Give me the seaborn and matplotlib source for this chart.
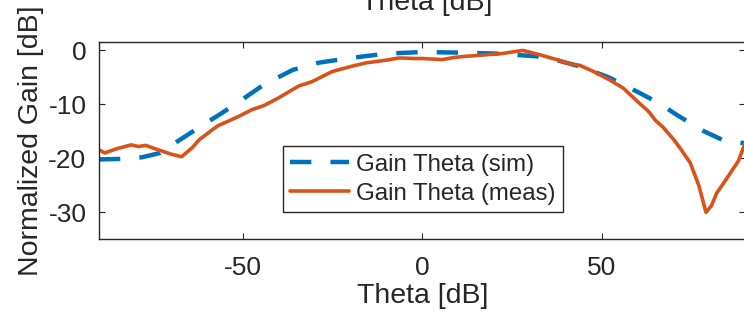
import pandas as pd
import seaborn as sns
import matplotlib.pyplot as plt

sns.set_theme(style="ticks")
plt.rcParams['font.family'] = ['Liberation Sans', 'DejaVu Sans']
plt.rcParams['axes.unicode_minus'] = False

# simulated gain (dashed blue)
sim_theta = [-90, -84, -78, -73, -68, -62, -56, -51, -44, -36, -29, -20, -10,
             0, 10, 21, 32, 38, 44, 52, 60, 66, 71, 78.5, 84, 90]
sim_gain = [-20.2, -20.1, -19.8, -19, -16.8, -14.2, -11.7, -9.5, -6.3, -3.6,
            -2.3, -1.4, -0.6, -0.3, -0.4, -0.6, -1.1, -1.9, -3, -5, -7.7,
            -9.8, -12, -15, -16.7, -17.2]

# measured gain (solid orange)
meas_theta = [-90, -88.4, -85, -81, -79, -77, -74, -70, -67, -64, -62, -57,
              -51, -47.5, -44, -40, -34.4, -30.7, -25, -20, -15.6, -10, -6.4,
              -2, 0, 5.6, 9, 12, 18, 22, 26, 28, 32.7, 37.4, 40, 44, 48, 52,
              56, 60, 63, 65, 67, 70, 72, 74.6, 77, 79, 80.5, 82, 84, 85.8,
              88, 90]
meas_gain = [-18.4, -19, -18.2, -17.5, -17.8, -17.6, -18.3, -19.2, -19.7, -18,
             -16.5, -14, -12.2, -11, -10.2, -8.8, -6.6, -5.8, -3.9, -3, -2.3,
             -1.8, -1.4, -1.5, -1.5, -1.7, -1.3, -1.1, -0.8, -0.6, -0.2, 0,
             -0.8, -1.7, -2.3, -2.8, -4, -5.4, -7, -9.5, -11.3, -13, -14.2,
             -16.5, -18.3, -20.8, -25, -30, -28.8, -26.4, -24.5, -22.7, -20.5,
             -17]

labels = ["Gain Theta (sim)", "Gain Theta (meas)"]
x_ticks = [-50, 0, 50]
y_ticks = [0, -10, -20, -30]

df = pd.concat([
    pd.DataFrame({"theta": sim_theta, "gain": sim_gain, "series": labels[0]}),
    pd.DataFrame({"theta": meas_theta, "gain": meas_gain, "series": labels[1]}),
])

fig = plt.figure(figsize=(7.44, 3.23), dpi=100)
ax = fig.add_axes([0.133, 0.259, 0.869, 0.610])

sns.lineplot(data=df, x="theta", y="gain", hue="series", style="series",
             size="series", estimator=None, sort=False, ax=ax,
             palette={labels[0]: "#0072BD", labels[1]: "#D95319"},
             dashes={labels[0]: (4.8, 4.3), labels[1]: ""},
             sizes={labels[0]: 3.2, labels[1]: 2.6})

ax.set_xlim(-90, 90)
ax.set_ylim(-35, 1.5)
ax.set_xticks(x_ticks)
ax.set_yticks(y_ticks)
ax.tick_params(direction="in", top=True, right=True, length=4.5, width=0.8,
               labelsize=19, colors="#262626")
ax.tick_params(axis="x", pad=12)
ax.tick_params(axis="y", pad=9)
for s in ax.spines.values():
    s.set_color("#262626")
    s.set_linewidth(1.0)

ax.set_xlabel("Theta [dB]", fontsize=20.5, color="#262626", labelpad=2)
ax.set_ylabel("Normalized Gain [dB]", fontsize=20.5, color="#262626", labelpad=3)

# clipped label of the subplot above
fig.text(0.573, 1 - 9.5 / 323, "Theta [dB]", fontsize=20.5, color="#262626",
         ha="center", va="baseline")

handles, labs = ax.get_legend_handles_labels()
leg = ax.legend(handles, labs, loc="lower left", bbox_to_anchor=(0.285, 0.139),
                fontsize=17.3, frameon=True, fancybox=False, framealpha=1,
                edgecolor="#262626", handlelength=2.45, handletextpad=0.3,
                borderpad=0.3, labelspacing=0.3, borderaxespad=0)
leg.get_frame().set_linewidth(1.0)
for t in leg.get_texts():
    t.set_color("#262626")

fig.savefig("out.png", dpi=100)
